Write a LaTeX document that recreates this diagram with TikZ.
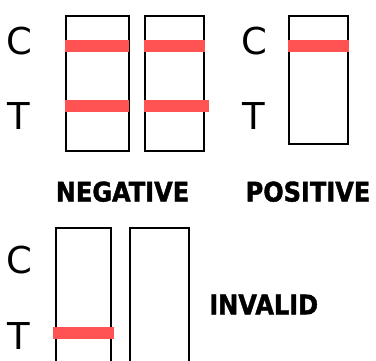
\documentclass[tikz,border=0pt]{standalone}
\usepackage{fontspec}
\setmainfont{DejaVu Sans}
\newfontfamily\capfont[FakeStretch=0.89,FakeBold=1.5]{DejaVu Sans Bold}
\definecolor{band}{RGB}{255,82,82}

\begin{document}
\begin{tikzpicture}
        [x=1pt,y=-1pt]
            \tikzstyle{every node}=[inner sep=0pt, outer sep=0pt]
            \tikzstyle{strip}=[draw, line width=2pt, fill=white]
            \tikzstyle{line}=[band, line width=12pt]
            \tikzstyle{letter}=[font=\fontsize{37}{37}\selectfont]
            \tikzstyle{result}=[font=\capfont\fontsize{27}{27}\selectfont]
        \useasboundingbox (0,0) rectangle (376,361);
        \clip (0,0) rectangle (376,361);
        %-----strips
         \draw[strip] (65.7,16) rectangle (128.7,150.7);
         \draw[strip] (144.7,16) rectangle (204.3,150.7);
         \draw[strip] (288.7,16) rectangle (348.3,144);
         \draw[strip] (56,228) rectangle (111,370);
         \draw[strip] (130,228) rectangle (189,370);

        %-----bands
         \foreach \xa/\xb/\yy in {65/129/46,144/205/46,65/129/106,144/209/106,288/349/46,53/114/333}
         \draw[line] (\xa,\yy) -- (\xb,\yy);

        %-----labels
         \node[letter] (C1) at (19,41) {C};
         \node[letter] (T1) at (19,116) {T};
         \node[letter] (C2) at (254,41) {C};
         \node[letter] (T2) at (254,116) {T};
         \node[letter] (C3) at (19,260) {C};
         \node[letter] (T3) at (19,336) {T};

         \node[result] (neg) at (122.5,191.7) {NEGATIVE};
         \node[result] (pos) at (308,191.7) {POSITIVE};
         \node[result] (inv) at (263.7,304.5) {INVALID};
        \end{tikzpicture}
\end{document}
